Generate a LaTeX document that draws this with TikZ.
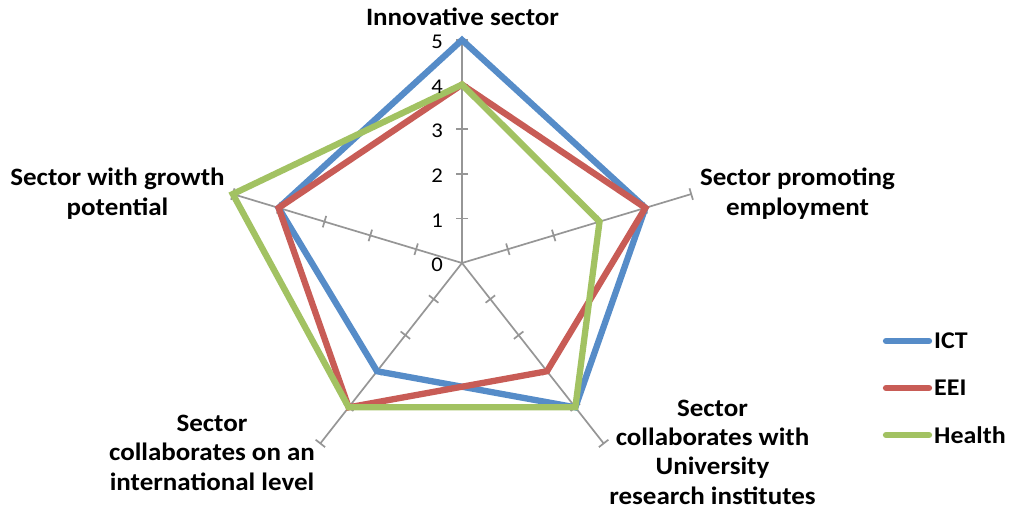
\documentclass[tikz,border=0pt]{standalone}
\usepackage{fontspec}
\setmainfont{Carlito}[FakeStretch=1.08]
\usetikzlibrary{calc}
\definecolor{ictblue}{RGB}{86,140,200}
\definecolor{eeired}{RGB}{200,92,86}
\definecolor{healthgreen}{RGB}{162,194,98}
\definecolor{axisgray}{RGB}{150,150,150}
\tikzset{
  axisline/.style={draw=axisgray, line width=1.7pt},
  serie/.style={line width=6.3pt, line join=miter},
  catlabel/.style={font=\fontsize{25}{29.3}\selectfont\bfseries, align=center, inner sep=0pt, anchor=base},
  numlabel/.style={font=\fontsize{21}{25}\selectfont, inner sep=0pt},
  legline/.style={line width=6.3pt, line cap=round},
  legtext/.style={font=\fontsize{24}{28}\selectfont\bfseries, anchor=west, inner sep=0pt}
}
\begin{document}
\begin{tikzpicture}[x=1pt,y=1pt]
\useasboundingbox (0,0) rectangle (1011,512);
\fill[white] (0,0) rectangle (1011,512);
\begin{scope}[shift={(462,249)}, x=48.2pt, y=44.6pt]
  \coordinate (O) at (0,0);
  \foreach \k in {0,...,4}{
    \pgfmathsetmacro{\ang}{90-72*\k}
    \coordinate (E\k) at (\ang:5);
    \draw[axisline] (O) -- (E\k);
    \foreach \v in {1,...,5}{
      \coordinate (T) at (\ang:\v);
      \draw[axisline] ($(T)!6pt!90:(O)$) -- ($(T)!6pt!-90:(O)$);
    }
  }
  % ICT
  \draw[serie, draw=ictblue] (90:5) -- (18:4) -- (-54:4) -- (-126:3) -- (162:4) -- cycle;
  % EEI
  \draw[serie, draw=eeired] (90:4) -- (18:4) -- (-54:3) -- (-126:4) -- (162:4) -- cycle;
  % Health
  \draw[serie, draw=healthgreen] (90:4) -- (18:3) -- (-54:4) -- (-126:4) -- (162:5) -- cycle;
\end{scope}
% scale numbers
\foreach \v in {0,...,5}{
  \node[numlabel] (n\v) at (437, {249+44.6*\v-2}) {\v};
}
% category labels (anchor = baseline of last line)
\node[catlabel] (c0) at (462.5,486) {Innovative sector};
\node[catlabel] (c1) at (797.5,297) {Sector promoting\\employment};
\node[catlabel] (c2) at (712.5,8) {Sector\\collaborates with\\University\\research institutes};
\node[catlabel] (c3) at (212,22) {Sector\\collaborates on an\\international level};
\node[catlabel] (c4) at (117.5,297) {Sector with growth\\potential};
% legend
\coordinate (l1a) at (886,171); \coordinate (l1b) at (929,171);
\coordinate (l2a) at (886,124); \coordinate (l2b) at (929,124);
\coordinate (l3a) at (886,77);  \coordinate (l3b) at (929,77);
\draw[legline, ictblue] (l1a) -- (l1b);
\draw[legline, eeired] (l2a) -- (l2b);
\draw[legline, healthgreen] (l3a) -- (l3b);
\node[legtext] (g1) at (934,171) {ICT};
\node[legtext] (g2) at (934,124) {EEI};
\node[legtext] (g3) at (934,77) {Health};
\end{tikzpicture}
\end{document}
